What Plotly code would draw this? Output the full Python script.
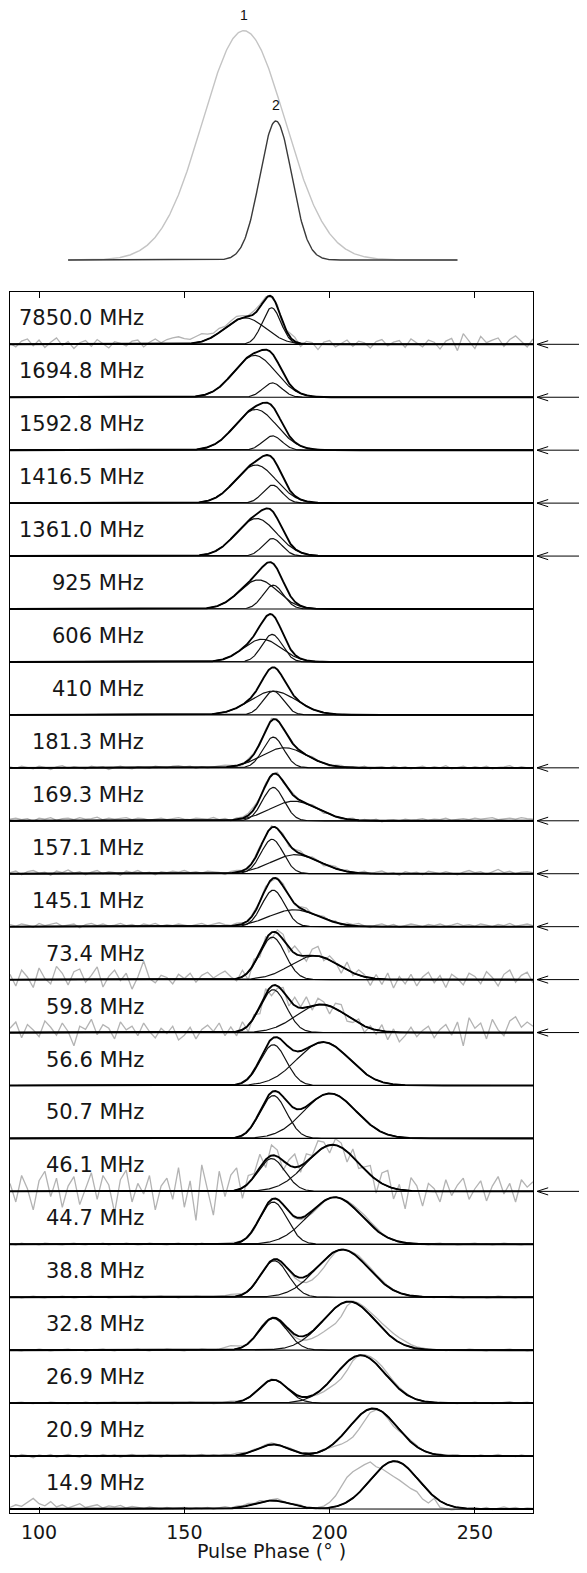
import numpy as np
import plotly.graph_objects as go

# ---------------- data ----------------
FREQ_LABELS = ["7850.0 MHz", "1694.8 MHz", "1592.8 MHz", "1416.5 MHz", "1361.0 MHz",
               "925 MHz", "606 MHz", "410 MHz", "181.3 MHz", "169.3 MHz", "157.1 MHz",
               "145.1 MHz", "73.4 MHz", "59.8 MHz", "56.6 MHz", "50.7 MHz", "46.1 MHz",
               "44.7 MHz", "38.8 MHz", "32.8 MHz", "26.9 MHz", "20.9 MHz", "14.9 MHz"]
HAS_ARROW = [1, 1, 1, 1, 1, 0, 0, 0, 1, 1, 1, 1, 1, 1, 0, 0, 1, 0, 0, 0, 0, 0, 0]

# component 1 (the wide one, drifting in phase)
C1_AMP = [0.50, 0.79, 0.77, 0.72, 0.71, 0.55, 0.43, 0.45, 0.38, 0.37, 0.36, 0.32,
          0.45, 0.53, 0.82, 0.85, 0.88, 0.89, 0.90, 0.92, 0.905, 0.90, 0.905]
C1_CEN = [170.9, 174.2, 174.6, 174.6, 174.8, 175.5, 176.8, 180.6, 184.5, 187.7, 188.3, 187.7,
          194.8, 197.2, 197.8, 200.1, 201.0, 201.8, 204.4, 206.7, 210.7, 215.0, 222.3]
C1_SIG = [7.0, 7.2, 7.2, 7.0, 7.0, 6.6, 6.5, 8.0, 7.8, 8.2, 8.5, 8.5,
          8.3, 8.6, 9.0, 9.0, 9.0, 9.2, 9.0, 9.0, 8.5, 8.3, 8.3]
# component 2 (the narrow one near 180 deg)
C2_AMP = [0.69, 0.27, 0.27, 0.34, 0.33, 0.45, 0.52, 0.45, 0.58, 0.63, 0.65, 0.69,
          0.80, 0.81, 0.77, 0.81, 0.62, 0.80, 0.69, 0.60, 0.44, 0.22, 0.16]
C2_CEN = [180.0, 180.3, 180.3, 180.3, 180.3, 180.6, 180.2, 180.6, 180.6, 180.6, 180.2, 180.6,
          180.3, 180.6, 180.6, 180.6, 180.0, 180.6, 181.0, 180.6, 180.6, 180.6, 180.3]
C2_SIG = [3.2, 3.3, 3.3, 3.3, 3.3, 3.5, 3.5, 3.5, 3.6, 3.7, 3.8, 3.9,
          4.4, 4.5, 4.5, 4.6, 4.7, 4.7, 4.8, 4.9, 5.0, 5.5, 6.3]

# observed-profile deviations from the fit, sampled every 2 deg from 90 to 270
PHASE_GRID = list(range(90, 271, 2))

RES_7850_0 = [0.02, -0.05, 0.06, 0.10, -0.03, 0.08, -0.06, 0.04, 0.12, -0.02,
              0.05, -0.08, 0.03, 0.07, -0.04, 0.09, 0.01, -0.07, 0.05, 0.02,
              -0.03, 0.06, 0.08, -0.05, 0.04, 0.10, 0.03, 0.09, 0.12, 0.14,
              0.10, 0.08, 0.12, 0.15, 0.10, 0.06, 0.08, 0.03, 0.05, 0.07,
              0.04, 0.02, 0.06, 0.05, 0.03, -0.02, 0.04, -0.08, 0.06, 0.08,
              -0.06, 0.05, 0.03, -0.10, 0.04, 0.07, -0.05, 0.02, 0.08, -0.04,
              0.06, 0.03, -0.07, 0.05, 0.09, -0.03, 0.04, 0.07, -0.06, 0.10,
              0.02, -0.05, 0.08, 0.04, -0.09, 0.06, 0.11, -0.12, 0.20, 0.05,
              -0.08, 0.15, 0.03, 0.08, 0.12, -0.04, 0.09, 0.16, 0.06, -0.05,
              0.10]
RES_181_3 = [0.02, -0.01, 0.03, 0.00, -0.02, 0.03, 0.01, -0.03, 0.02, 0.04,
             -0.01, 0.02, 0.00, -0.02, 0.03, 0.01, 0.02, -0.03, 0.01, 0.03,
             0.00, -0.02, 0.02, 0.01, -0.01, 0.03, 0.02, 0.00, 0.03, 0.04,
             0.02, 0.03, -0.01, 0.02, 0.00, 0.01, 0.03, 0.04, 0.02, 0.00,
             -0.02, 0.03, 0.02, -0.03, 0.01, 0.04, 0.02, -0.02, 0.03, 0.01,
             0.02, -0.01, 0.03, 0.01, 0.00, -0.02, 0.02, 0.03, -0.01, 0.02,
             0.00, 0.03, -0.02, 0.01, 0.02, -0.01, 0.03, 0.00, 0.02, -0.02,
             0.01, 0.03, -0.01, 0.02, 0.00, 0.04, -0.02, 0.01, 0.03, -0.01,
             0.02, 0.00, 0.03, -0.02, 0.01, 0.02, 0.04, -0.01, 0.02, 0.00,
             0.01]
RES_169_3 = [0.03, 0.05, 0.02, 0.04, -0.01, 0.05, 0.03, 0.06, 0.01, 0.04,
             0.05, 0.02, 0.06, 0.03, 0.04, 0.07, 0.02, 0.05, 0.03, 0.04,
             0.06, 0.02, 0.05, 0.04, 0.01, 0.03, 0.05, 0.02, 0.04, 0.06,
             0.03, 0.02, 0.05, 0.04, 0.03, 0.06, 0.02, 0.04, -0.01, 0.03,
             0.02, 0.04, 0.05, 0.01, 0.03, 0.02, 0.04, -0.02, 0.02, 0.03,
             0.00, -0.02, 0.03, 0.01, -0.03, 0.02, 0.00, -0.02, 0.01, 0.03,
             -0.01, 0.02, 0.00, 0.03, -0.02, 0.01, 0.02, 0.00, 0.03, 0.01,
             0.02, 0.04, 0.01, 0.03, 0.02, 0.05, 0.01, 0.03, 0.04, 0.02,
             0.05, 0.03, 0.04, 0.06, 0.02, 0.04, 0.05, 0.03, 0.06, 0.04,
             0.03]
RES_157_1 = [0.02, 0.05, -0.02, 0.04, 0.06, 0.01, 0.03, -0.03, 0.05, 0.02,
             0.07, 0.01, 0.04, -0.02, 0.03, 0.06, 0.00, 0.04, 0.02, -0.03,
             0.05, 0.02, 0.06, 0.01, 0.03, -0.02, 0.04, 0.02, 0.05, 0.03,
             0.06, 0.02, 0.04, 0.01, 0.05, 0.03, 0.02, -0.02, 0.03, 0.04,
             0.01, -0.03, 0.02, 0.04, -0.02, 0.03, 0.00, 0.04, -0.03, 0.02,
             0.05, -0.02, 0.03, 0.01, -0.04, 0.02, 0.04, 0.00, 0.03, -0.02,
             0.01, 0.04, -0.01, 0.03, 0.05, 0.00, 0.02, -0.03, 0.04, 0.01,
             0.03, -0.02, 0.05, 0.02, 0.00, 0.04, 0.01, -0.02, 0.03, 0.06,
             0.02, 0.04, -0.01, 0.03, 0.08, 0.02, 0.05, 0.00, 0.03, 0.04,
             0.02]
RES_145_1 = [0.04, 0.01, 0.05, 0.03, -0.01, 0.06, 0.02, 0.04, 0.07, 0.01,
             0.03, 0.05, -0.02, 0.04, 0.06, 0.02, 0.05, 0.01, 0.03, 0.06,
             0.02, 0.04, 0.00, 0.05, 0.03, 0.06, 0.01, 0.04, 0.02, 0.05,
             0.03, 0.01, 0.04, 0.06, 0.02, 0.05, 0.07, 0.03, 0.01, 0.04,
             0.02, -0.02, 0.03, 0.01, 0.04, -0.03, 0.02, 0.05, 0.01, -0.02,
             0.03, 0.06, -0.01, 0.02, 0.04, 0.00, 0.03, -0.02, 0.04, 0.02,
             0.05, 0.01, -0.02, 0.03, 0.05, 0.01, 0.04, -0.01, 0.02, 0.05,
             0.03, 0.00, 0.04, 0.02, 0.05, 0.01, 0.03, 0.06, 0.02, 0.04,
             0.01, 0.05, 0.03, 0.00, 0.04, 0.02, 0.06, 0.01, 0.03, 0.05,
             0.02]
RES_73_4 = [0.10, -0.12, 0.18, 0.05, -0.15, 0.22, 0.02, -0.08, 0.25, 0.12,
            -0.10, 0.15, 0.20, -0.05, 0.08, 0.24, -0.14, 0.06, 0.18, -0.02,
            0.12, -0.18, 0.05, 0.35, 0.02, -0.06, 0.08, 0.04, -0.08, 0.10,
            0.02, 0.12, -0.05, 0.08, 0.14, 0.03, 0.10, 0.16, 0.05, -0.04,
            0.12, -0.15, 0.08, -0.10, 0.05, -0.12, 0.06, 0.10, -0.08, 0.14,
            0.05, -0.10, 0.12, 0.18, -0.06, 0.08, 0.02, -0.12, 0.15, -0.05,
            0.10, 0.04, -0.14, 0.08, -0.10, 0.12, -0.16, 0.06, -0.08, 0.10,
            -0.12, 0.05, 0.14, -0.06, 0.08, -0.15, 0.10, 0.02, -0.10, 0.12,
            0.06, -0.08, 0.15, 0.04, -0.12, 0.10, 0.18, -0.05, 0.08, 0.14,
            -0.06]
RES_59_8 = [0.08, 0.20, -0.10, 0.15, 0.05, -0.08, 0.22, 0.10, -0.05, 0.18,
            0.02, -0.25, 0.12, 0.06, 0.25, -0.04, 0.15, 0.08, -0.12, 0.20,
            0.05, 0.12, -0.06, 0.18, 0.02, -0.10, 0.08, -0.02, 0.12, -0.14,
            -0.05, 0.10, -0.12, 0.06, 0.14, 0.02, 0.18, -0.06, 0.10, -0.08,
            0.15, -0.12, 0.05, -0.15, 0.10, -0.18, -0.05, 0.08, -0.12, 0.16,
            0.02, 0.20, -0.08, 0.12, 0.05, -0.15, 0.10, 0.14, -0.10, -0.05,
            0.08, -0.12, 0.05, -0.08, 0.12, -0.15, 0.06, -0.18, -0.06, 0.10,
            -0.08, 0.04, 0.12, -0.10, 0.06, 0.15, -0.05, 0.20, -0.25, 0.28,
            0.08, 0.18, -0.12, 0.25, 0.05, -0.06, 0.22, 0.30, 0.10, 0.20,
            0.12]
RES_46_1 = [0.15, -0.20, 0.30, 0.05, -0.35, 0.20, 0.38, -0.10, 0.25, -0.30,
            0.10, 0.28, -0.25, 0.05, 0.35, -0.15, 0.30, 0.12, -0.40, 0.22,
            0.40, -0.20, 0.15, -0.05, 0.30, -0.35, 0.10, 0.25, -0.15, 0.45,
            -0.30, 0.20, -0.55, 0.50, 0.05, -0.45, 0.38, -0.10, 0.30, 0.42,
            -0.20, 0.15, 0.05, 0.25, -0.15, 0.20, 0.12, -0.18, 0.10, 0.25,
            -0.12, 0.15, 0.02, 0.20, 0.10, -0.15, 0.12, 0.08, -0.20, 0.15,
            -0.10, 0.05, 0.18, -0.25, 0.20, 0.30, -0.20, 0.10, -0.35, 0.25,
            0.10, -0.28, 0.15, 0.05, -0.20, 0.22, -0.08, 0.12, 0.25, -0.15,
            0.05, 0.20, -0.18, 0.10, 0.28, -0.05, 0.15, -0.20, 0.22, 0.08,
            0.18]
RES_44_7 = [0.01, -0.01, 0.02, 0.00, 0.01, -0.01, 0.02, 0.01, 0.00, -0.01,
            0.01, 0.02, 0.00, -0.01, 0.01, 0.00, 0.02, -0.01, 0.01, 0.00,
            0.02, 0.01, -0.01, 0.00, 0.02, 0.01, 0.00, -0.01, 0.01, 0.02,
            0.00, 0.01, -0.01, 0.02, 0.00, 0.01, 0.02, 0.03, 0.04, 0.02,
            0.01, -0.02, -0.03, -0.02, 0.00, 0.02, 0.01, -0.01, 0.00, -0.02,
            -0.03, -0.04, -0.05, -0.04, -0.02, 0.00, 0.01, 0.00, 0.02, 0.04,
            0.06, 0.07, 0.06, 0.04, 0.02, 0.01, 0.00, -0.01, 0.01, 0.00,
            0.01, 0.00, -0.01, 0.01, 0.02, 0.00, 0.01, -0.01, 0.00, 0.01,
            0.02, 0.00, 0.01, -0.01, 0.00, 0.02, 0.01, 0.00, -0.01, 0.01,
            0.00]
RES_38_8 = [0.00, 0.01, -0.01, 0.01, 0.02, 0.00, -0.01, 0.01, 0.00, 0.02,
            0.01, -0.01, 0.00, 0.01, 0.02, 0.00, 0.01, -0.01, 0.00, 0.01,
            0.00, 0.02, 0.01, -0.01, 0.00, 0.01, 0.02, 0.00, 0.01, -0.01,
            0.01, 0.00, 0.02, 0.01, 0.00, 0.01, 0.02, 0.03, 0.05, 0.04,
            0.02, 0.00, -0.01, 0.01, 0.00, -0.01, 0.01, 0.00, -0.02, -0.04,
            -0.08, -0.12, -0.15, -0.16, -0.14, -0.08, -0.02, 0.02, 0.01, 0.02,
            0.04, 0.05, 0.05, 0.04, 0.03, 0.02, 0.01, 0.00, 0.01, -0.01,
            0.00, 0.01, 0.00, -0.01, 0.01, 0.00, 0.02, 0.00, -0.01, 0.01,
            0.00, 0.01, -0.01, 0.00, 0.02, 0.01, 0.00, -0.01, 0.01, 0.00,
            0.01]
RES_32_8 = [0.01, 0.00, -0.01, 0.01, 0.00, 0.02, 0.01, -0.01, 0.00, 0.01,
            0.02, 0.00, 0.01, -0.01, 0.00, 0.01, 0.02, 0.00, -0.01, 0.01,
            0.00, 0.01, 0.02, 0.00, -0.01, 0.01, 0.00, 0.02, 0.01, 0.00,
            -0.01, 0.01, 0.00, 0.02, 0.01, 0.00, 0.02, 0.05, 0.08, 0.06,
            0.02, 0.00, -0.02, 0.01, 0.02, 0.00, 0.01, -0.02, -0.03, -0.05,
            -0.07, -0.09, -0.13, -0.18, -0.23, -0.27, -0.30, -0.24, -0.08, 0.02,
            0.03, 0.04, 0.06, 0.08, 0.09, 0.10, 0.10, 0.09, 0.07, 0.05,
            0.03, 0.02, 0.01, 0.00, 0.01, -0.01, 0.00, 0.01, 0.00, 0.02,
            0.01, 0.00, -0.01, 0.01, 0.00, 0.01, 0.02, 0.00, 0.01, -0.01,
            0.00]
RES_26_9 = [0.00, 0.01, 0.02, 0.00, -0.01, 0.01, 0.00, 0.02, 0.01, 0.00,
            -0.01, 0.01, 0.00, 0.02, 0.01, -0.01, 0.00, 0.01, 0.02, 0.00,
            0.01, 0.00, -0.01, 0.01, 0.02, 0.00, 0.01, 0.00, -0.01, 0.01,
            0.00, 0.02, 0.01, 0.00, 0.01, -0.01, 0.00, 0.02, 0.03, 0.02,
            0.01, 0.00, -0.01, 0.00, 0.01, 0.02, 0.00, -0.01, 0.00, 0.01,
            0.00, -0.01, -0.01, -0.04, -0.08, -0.12, -0.17, -0.20, -0.16, -0.06,
            0.00, 0.02, 0.04, 0.06, 0.07, 0.06, 0.04, 0.03, 0.02, 0.01,
            0.00, 0.01, -0.01, 0.00, 0.02, 0.01, 0.00, -0.01, 0.01, 0.00,
            0.02, 0.00, 0.01, -0.01, 0.00, 0.01, 0.03, 0.00, 0.01, 0.02,
            0.00]
RES_20_9 = [0.02, -0.02, 0.03, 0.01, -0.03, 0.02, 0.00, 0.03, -0.02, 0.01,
            0.03, 0.00, -0.02, 0.02, 0.01, -0.01, 0.03, 0.00, 0.02, -0.02,
            0.01, 0.03, 0.00, -0.01, 0.02, 0.01, -0.02, 0.02, 0.00, 0.01,
            0.02, -0.01, 0.01, 0.03, 0.00, 0.02, 0.01, 0.03, 0.02, 0.04,
            0.03, 0.01, 0.02, 0.00, 0.02, 0.03, 0.01, 0.00, 0.02, 0.01,
            0.00, 0.02, 0.01, 0.00, 0.02, -0.02, -0.08, -0.15, -0.22, -0.27,
            -0.25, -0.17, -0.07, -0.02, 0.00, -0.04, -0.07, -0.03, 0.02, 0.03,
            0.02, 0.00, 0.01, -0.01, 0.02, 0.00, 0.01, 0.02, 0.00, -0.01,
            -0.01, 0.02, 0.00, 0.01, 0.03, 0.00, 0.01, -0.01, 0.02, 0.00,
            0.01]
RES_14_9 = [0.03, 0.08, 0.05, 0.12, 0.20, 0.10, 0.06, 0.14, 0.04, 0.08,
            0.02, 0.06, 0.10, 0.03, 0.05, 0.08, 0.02, 0.06, 0.04, 0.07,
            0.02, 0.05, 0.03, 0.01, 0.04, 0.02, 0.00, 0.03, 0.01, 0.02,
            0.03, 0.00, 0.02, 0.01, 0.03, 0.00, 0.02, 0.04, 0.01, 0.03,
            0.02, 0.04, 0.01, 0.03, 0.00, 0.02, 0.04, 0.01, -0.01, 0.02,
            0.03, -0.02, 0.00, 0.02, 0.04, 0.10, 0.20, 0.35, 0.47, 0.50,
            0.47, 0.42, 0.34, 0.12, -0.03, -0.19, -0.29, -0.34, -0.35, -0.33,
            -0.26, -0.27, -0.22, -0.03, -0.12, -0.09, -0.07, -0.03, -0.02, 0.01,
            0.02, 0.00, 0.03, -0.01, 0.02, 0.04, 0.01, 0.03, 0.00, 0.02,
            0.01]

# schematic components at the top
TOP_LABELS = ["1", "2"]
TOP_AMP = [1.0, 0.606]
TOP_CEN = [170.5, 181.5]
TOP_SIG = [14.2, 5.5]
TOP_COLORS = ["#c4c4c4", "#3a3a3a"]
TOP_XMIN, TOP_XMAX = 110, 244

X_TICKS = [100, 150, 200, 250]
X_RANGE = [90, 270]
X_TITLE = "Pulse Phase (° )"

# ---------------- build figure ----------------
RESIDUALS = {
    "7850.0 MHz": RES_7850_0, "181.3 MHz": RES_181_3, "169.3 MHz": RES_169_3,
    "157.1 MHz": RES_157_1, "145.1 MHz": RES_145_1, "73.4 MHz": RES_73_4,
    "59.8 MHz": RES_59_8, "46.1 MHz": RES_46_1, "44.7 MHz": RES_44_7,
    "38.8 MHz": RES_38_8, "32.8 MHz": RES_32_8, "26.9 MHz": RES_26_9,
    "20.9 MHz": RES_20_9, "14.9 MHz": RES_14_9,
}


def gauss(x, a, c, s):
    return a * np.exp(-0.5 * ((x - c) / s) ** 2)


FONT = "DejaVu Sans"
N = len(FREQ_LABELS)
x_fine = np.linspace(X_RANGE[0], X_RANGE[1], 1441)
x_grid = np.array(PHASE_GRID, dtype=float)

fig = go.Figure()

# observed (gray) profiles first so they sit behind the fits
for i, lab in enumerate(FREQ_LABELS):
    if lab not in RESIDUALS:
        continue
    base = N - 1 - i
    fit = gauss(x_grid, C1_AMP[i], C1_CEN[i], C1_SIG[i]) + gauss(x_grid, C2_AMP[i], C2_CEN[i], C2_SIG[i])
    y = base + fit + np.array(RESIDUALS[lab])
    fig.add_trace(go.Scatter(x=x_grid, y=y, mode="lines",
                             line=dict(color="#b3b3b3", width=1.3),
                             hoverinfo="skip", showlegend=False))

for i, lab in enumerate(FREQ_LABELS):
    base = N - 1 - i
    g1 = gauss(x_fine, C1_AMP[i], C1_CEN[i], C1_SIG[i])
    g2 = gauss(x_fine, C2_AMP[i], C2_CEN[i], C2_SIG[i])
    for g in (g1, g2):
        fig.add_trace(go.Scatter(x=x_fine, y=base + g, mode="lines",
                                 line=dict(color="#111111", width=1.2),
                                 hoverinfo="skip", showlegend=False))
    fig.add_trace(go.Scatter(x=x_fine, y=base + g1 + g2, mode="lines",
                             line=dict(color="#000000", width=1.9),
                             hoverinfo="skip", showlegend=False))

# top schematic
x_top = np.linspace(TOP_XMIN, TOP_XMAX, 600)
for k in range(len(TOP_LABELS)):
    fig.add_trace(go.Scatter(x=x_top, y=gauss(x_top, TOP_AMP[k], TOP_CEN[k], TOP_SIG[k]),
                             mode="lines", line=dict(color=TOP_COLORS[k], width=1.4),
                             xaxis="x2", yaxis="y2", hoverinfo="skip", showlegend=False))

annotations = []
shapes = []
PANEL_LO, PANEL_HI = -0.075, N - 1 + 0.988
LABEL_X = 136.8
for i, lab in enumerate(FREQ_LABELS):
    base = N - 1 - i
    annotations.append(dict(x=LABEL_X, y=base + 0.49, xref="x", yref="y", text=lab,
                            showarrow=False, xanchor="right", yanchor="middle",
                            font=dict(family=FONT, size=21, color="#161616")))
    if i < N - 1:
        shapes.append(dict(type="line", xref="paper", yref="y", x0=0, x1=1, y0=base, y1=base,
                           line=dict(color="#000000", width=1.2), layer="above"))
    if HAS_ARROW[i]:
        shapes.append(dict(type="line", xref="paper", yref="y", x0=1.0077, x1=1.15,
                           y0=base, y1=base, line=dict(color="#000000", width=1)))
        shapes.append(dict(type="path", xref="paper", yref="y",
                           path=f"M 1.0290,{base + 0.068} L 1.0077,{base} L 1.0290,{base - 0.068}",
                           line=dict(color="#000000", width=1)))

for k in range(len(TOP_LABELS)):
    annotations.append(dict(x=TOP_CEN[k], y=TOP_AMP[k] + 0.07, xref="x2", yref="y2",
                            text=TOP_LABELS[k], showarrow=False, xanchor="center",
                            yanchor="middle",
                            font=dict(family="Liberation Sans", size=14, color="#111111")))

# x-axis title placed as a paper annotation below the tick labels
annotations.append(dict(x=0.5, y=-0.02525, xref="paper", yref="paper", text=X_TITLE,
                        showarrow=False, xanchor="center", yanchor="middle",
                        font=dict(family=FONT, size=19, color="#161616")))

# the page body has an 8 px margin, so the figure is 16 px smaller than the window
fig.update_layout(
    width=571, height=1557,
    margin=dict(l=2, r=46, t=0, b=52, autoexpand=False),
    paper_bgcolor="white", plot_bgcolor="white",
    showlegend=False,
    xaxis=dict(domain=[0, 1], range=X_RANGE, anchor="y",
               tickvals=X_TICKS, ticktext=[str(v) for v in X_TICKS],
               ticks="inside", ticklen=6, tickwidth=1, tickcolor="#000000",
               showline=True, linecolor="#000000", linewidth=1.2, mirror="ticks",
               showgrid=False, zeroline=False, automargin=False,
               tickfont=dict(family=FONT, size=19, color="#161616"),
               ticklabelstandoff=2),
    yaxis=dict(domain=[0, 0.81130], range=[PANEL_LO, PANEL_HI], anchor="x",
               showline=True, linecolor="#000000", linewidth=1.2, mirror=True,
               showticklabels=False, ticks="", showgrid=False, zeroline=False,
               automargin=False),
    xaxis2=dict(domain=[0, 1], range=X_RANGE, anchor="y2", visible=False),
    yaxis2=dict(domain=[0.82591, 1.0], range=[-0.0436, 1.099], anchor="x2", visible=False),
    annotations=annotations,
    shapes=shapes,
)

fig.write_html("out.html")
